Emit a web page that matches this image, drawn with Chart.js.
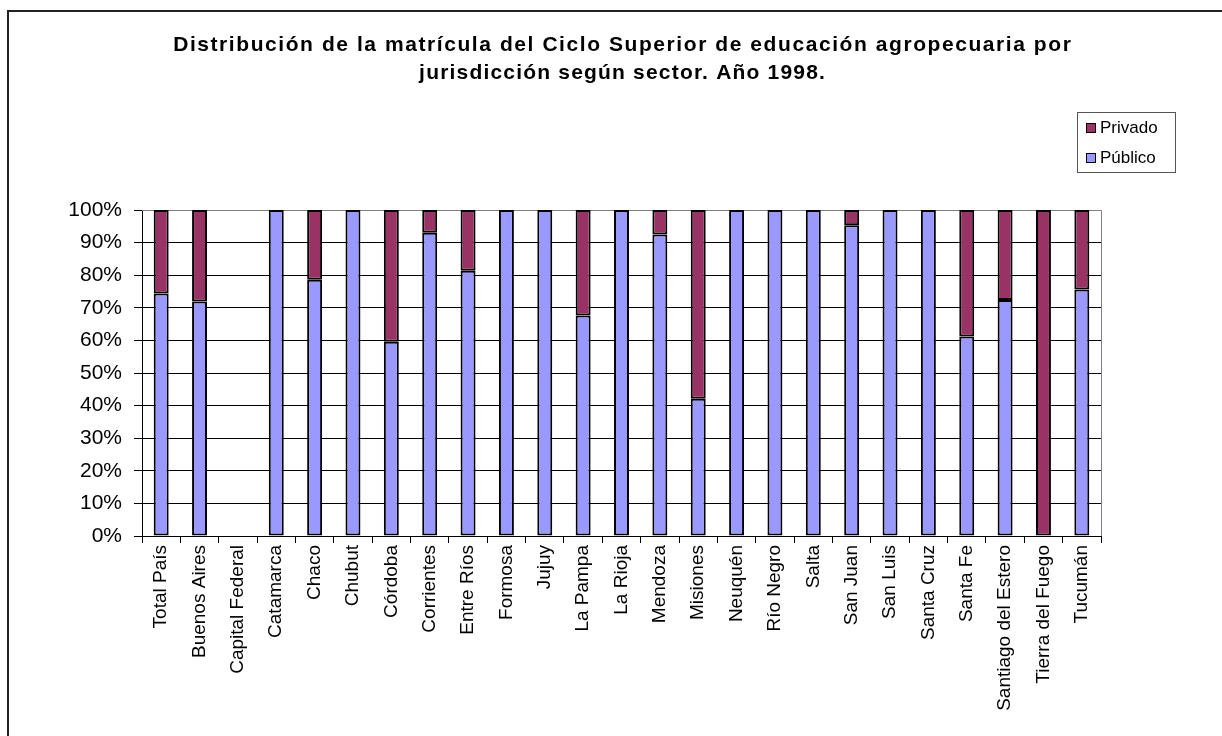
<!DOCTYPE html>
<html>
<head>
<meta charset="utf-8">
<script src="https://cdn.jsdelivr.net/npm/chart.js@4"></script>
<style>
  html, body { margin: 0; padding: 0; background: #fff; }
  #wrap { width: 1222px; height: 736px; position: relative; }
</style>
</head>
<body>
<div id="wrap"><canvas id="c" width="1222" height="736"></canvas></div>
<script>
const titleLines = [
  'Distribución de la matrícula del Ciclo Superior de educación agropecuaria por',
  'jurisdicción según sector. Año 1998.'
];
const categories = ['Total País','Buenos Aires','Capital Federal','Catamarca','Chaco','Chubut','Córdoba','Corrientes','Entre Ríos','Formosa','Jujuy','La Pampa','La Rioja','Mendoza','Misiones','Neuquén','Río Negro','Salta','San Juan','San Luis','Santa Cruz','Santa Fe','Santiago del Estero','Tierra del Fuego','Tucumán'];
const publico = [74.4, 71.9, 0, 100, 78.6, 100, 59.6, 93.0, 81.4, 100, 100, 67.6, 100, 92.5, 42.1, 100, 100, 100, 95.3, 100, 100, 61.2, 72.4, 0, 75.6];
const privado = [25.6, 28.1, 0, 0, 21.4, 0, 40.4, 7.0, 18.6, 0, 0, 32.4, 0, 7.5, 57.9, 0, 0, 0, 4.7, 0, 0, 38.8, 27.6, 100, 24.4];
const yTicks = [0, 10, 20, 30, 40, 50, 60, 70, 80, 90, 100];
const seriesNames = ['Público', 'Privado'];
const seriesColors = ['#9999FF', '#993366'];

const FONT = "'Liberation Sans', Arial, sans-serif";

const decor = {
  id: 'decor',
  beforeDatasetsDraw(chart) {
    const ctx = chart.ctx, a = chart.chartArea;
    ctx.save();
    ctx.strokeStyle = '#808080';
    ctx.lineWidth = 1;
    ctx.beginPath();
    ctx.moveTo(a.left, Math.round(a.top) + 0.5);
    ctx.lineTo(Math.round(a.right) + 0.5, Math.round(a.top) + 0.5);
    ctx.lineTo(Math.round(a.right) + 0.5, a.bottom);
    ctx.stroke();
    ctx.restore();
  },
  afterDraw(chart) {
    const ctx = chart.ctx;
    ctx.save();
    // outer frame
    ctx.strokeStyle = '#222';
    ctx.lineWidth = 2;
    ctx.beginPath();
    ctx.moveTo(8, 740);
    ctx.lineTo(8, 11);
    ctx.lineTo(1230, 11);
    ctx.stroke();
    // title
    ctx.fillStyle = '#000';
    ctx.textAlign = 'center';
    ctx.textBaseline = 'middle';
    ctx.font = 'bold 21px ' + FONT;
    const targets = [899, 407];
    const ys = [45, 73];
    titleLines.forEach((t, i) => {
      ctx.letterSpacing = '0px';
      const w = ctx.measureText(t).width;
      const ls = Math.max(0, (targets[i] - w) / t.length);
      ctx.letterSpacing = ls.toFixed(2) + 'px';
      ctx.fillText(t, 622 + ls / 2, ys[i]);
    });
    ctx.letterSpacing = '0px';
    // legend
    const lx = 1077, ly = 112, lw = 98, lh = 60;
    ctx.fillStyle = '#fff';
    ctx.fillRect(lx, ly, lw, lh);
    ctx.strokeStyle = '#555';
    ctx.lineWidth = 1;
    ctx.strokeRect(lx + 0.5, ly + 0.5, lw, lh);
    ctx.font = '17px ' + FONT;
    ctx.textAlign = 'left';
    const entries = [[seriesNames[1], seriesColors[1]], [seriesNames[0], seriesColors[0]]];
    entries.forEach((e, i) => {
      const cy = ly + 16 + i * 30;
      ctx.fillStyle = e[1];
      ctx.fillRect(1086, cy - 5, 10, 10);
      ctx.strokeStyle = '#000';
      ctx.strokeRect(1086.5, cy - 4.5, 9, 9);
      ctx.fillStyle = '#000';
      ctx.fillText(e[0], 1100, cy);
    });
    ctx.restore();
  }
};

new Chart(document.getElementById('c'), {
  type: 'bar',
  data: {
    labels: categories,
    datasets: [
      { label: seriesNames[0], data: publico, backgroundColor: seriesColors[0], borderColor: '#000', borderWidth: 2, borderSkipped: false },
      { label: seriesNames[1], data: privado, backgroundColor: seriesColors[1], borderColor: '#000', borderWidth: 2, borderSkipped: false }
    ]
  },
  options: {
    responsive: false,
    animation: false,
    devicePixelRatio: 1,
    barPercentage: 0.39,
    categoryPercentage: 1,
    layout: { padding: { top: 210, right: 121, bottom: 10, left: 20 } },
    plugins: {
      legend: { display: false },
      title: { display: false },
      tooltip: { enabled: false }
    },
    scales: {
      x: {
        stacked: true,
        offset: true,
        grid: { display: true, offset: true, drawOnChartArea: false, drawTicks: true, tickLength: 7, color: '#000' },
        border: { display: true, color: '#000', width: 1 },
        ticks: { minRotation: 90, maxRotation: 90, autoSkip: false, padding: 2, color: '#000', font: { family: FONT, size: 19 } },
        afterFit(s) { s.height = 190; }
      },
      y: {
        stacked: true,
        min: 0,
        max: 100,
        afterBuildTicks(s) { s.ticks = yTicks.map(v => ({ value: v })); },
        grid: { color: '#000', tickLength: 8, drawTicks: true },
        border: { display: true, color: '#000', width: 1 },
        ticks: { padding: 12, color: '#000', font: { family: FONT, size: 21 }, callback: v => v + '%' },
        afterFit(s) { s.width = 122; }
      }
    }
  },
  plugins: [decor]
});
</script>
</body>
</html>
